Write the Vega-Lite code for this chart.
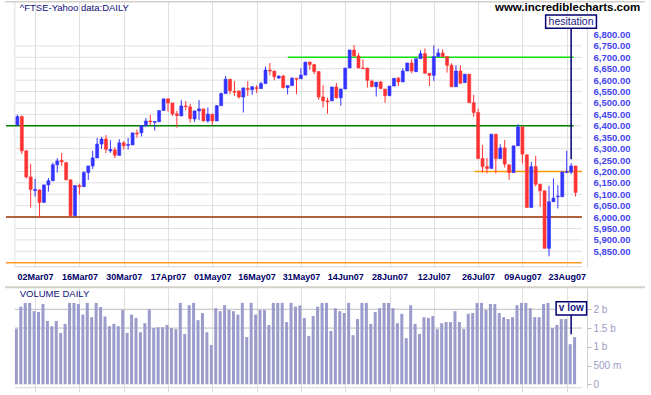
{
  "$schema": "https://vega.github.io/schema/vega-lite/v6.json",
  "padding": 0,
  "background": "white",
  "spacing": 21,
  "bounds": "flush",
  "config": {"view": {"stroke": null}, "axis": {"labelFont": "Liberation Sans", "labelOverlap": false, "labelFlush": false, "tickCount": 40}, "text": {"font": "Liberation Sans"}},
  "datasets": {
    "ftse": [
      {"i":0,"date":"26Feb07","o":6404,"h":6448,"l":6400,"c":6440,"v":1480000000},
      {"i":1,"date":"27Feb07","o":6440,"h":6446,"l":6276,"c":6290,"v":2070000000},
      {"i":2,"date":"28Feb07","o":6290,"h":6292,"l":6169,"c":6176,"v":2170000000},
      {"i":3,"date":"01Mar07","o":6176,"h":6233,"l":6041,"c":6121,"v":2170000000},
      {"i":4,"date":"02Mar07","o":6116,"h":6168,"l":6090,"c":6121,"v":1950000000},
      {"i":5,"date":"05Mar07","o":6119,"h":6121,"l":5996,"c":6064,"v":1930000000},
      {"i":6,"date":"06Mar07","o":6064,"h":6141,"l":6064,"c":6141,"v":2140000000},
      {"i":7,"date":"07Mar07","o":6141,"h":6171,"l":6112,"c":6159,"v":1690000000},
      {"i":8,"date":"08Mar07","o":6159,"h":6238,"l":6159,"c":6229,"v":1550000000},
      {"i":9,"date":"09Mar07","o":6229,"h":6258,"l":6195,"c":6246,"v":1690000000},
      {"i":10,"date":"12Mar07","o":6248,"h":6281,"l":6224,"c":6242,"v":1370000000},
      {"i":11,"date":"13Mar07","o":6238,"h":6242,"l":6163,"c":6163,"v":1610000000},
      {"i":12,"date":"14Mar07","o":6163,"h":6165,"l":6006,"c":6006,"v":2170000000},
      {"i":13,"date":"15Mar07","o":6006,"h":6140,"l":6006,"c":6138,"v":2170000000},
      {"i":14,"date":"16Mar07","o":6138,"h":6146,"l":6098,"c":6133,"v":2140000000},
      {"i":15,"date":"19Mar07","o":6133,"h":6201,"l":6133,"c":6195,"v":1860000000},
      {"i":16,"date":"20Mar07","o":6195,"h":6224,"l":6163,"c":6224,"v":2170000000},
      {"i":17,"date":"21Mar07","o":6224,"h":6290,"l":6211,"c":6259,"v":1790000000},
      {"i":18,"date":"22Mar07","o":6259,"h":6347,"l":6259,"c":6320,"v":2170000000},
      {"i":19,"date":"23Mar07","o":6320,"h":6351,"l":6299,"c":6342,"v":2060000000},
      {"i":20,"date":"26Mar07","o":6342,"h":6359,"l":6280,"c":6297,"v":1810000000},
      {"i":21,"date":"27Mar07","o":6290,"h":6337,"l":6281,"c":6296,"v":1550000000},
      {"i":22,"date":"28Mar07","o":6294,"h":6306,"l":6258,"c":6271,"v":1610000000},
      {"i":23,"date":"29Mar07","o":6270,"h":6341,"l":6270,"c":6325,"v":1550000000},
      {"i":24,"date":"30Mar07","o":6325,"h":6333,"l":6296,"c":6313,"v":1980000000},
      {"i":25,"date":"02Apr07","o":6314,"h":6347,"l":6296,"c":6318,"v":1370000000},
      {"i":26,"date":"03Apr07","o":6316,"h":6369,"l":6316,"c":6369,"v":1860000000},
      {"i":27,"date":"04Apr07","o":6368,"h":6383,"l":6348,"c":6364,"v":1770000000},
      {"i":28,"date":"05Apr07","o":6369,"h":6401,"l":6353,"c":6401,"v":1390000000},
      {"i":29,"date":"10Apr07","o":6401,"h":6434,"l":6396,"c":6421,"v":1630000000},
      {"i":30,"date":"11Apr07","o":6421,"h":6448,"l":6404,"c":6417,"v":2000000000},
      {"i":31,"date":"12Apr07","o":6415,"h":6421,"l":6379,"c":6419,"v":1500000000},
      {"i":32,"date":"13Apr07","o":6418,"h":6467,"l":6418,"c":6467,"v":1520000000},
      {"i":33,"date":"16Apr07","o":6467,"h":6518,"l":6467,"c":6518,"v":1520000000},
      {"i":34,"date":"17Apr07","o":6518,"h":6518,"l":6462,"c":6500,"v":1580000000},
      {"i":35,"date":"18Apr07","o":6500,"h":6500,"l":6443,"c":6452,"v":1500000000},
      {"i":36,"date":"19Apr07","o":6452,"h":6465,"l":6392,"c":6445,"v":1470000000},
      {"i":37,"date":"20Apr07","o":6443,"h":6513,"l":6443,"c":6487,"v":2170000000},
      {"i":38,"date":"23Apr07","o":6487,"h":6509,"l":6468,"c":6484,"v":1340000000},
      {"i":39,"date":"24Apr07","o":6483,"h":6496,"l":6414,"c":6431,"v":2110000000},
      {"i":40,"date":"25Apr07","o":6430,"h":6467,"l":6417,"c":6465,"v":2170000000},
      {"i":41,"date":"26Apr07","o":6465,"h":6513,"l":6424,"c":6474,"v":1710000000},
      {"i":42,"date":"27Apr07","o":6474,"h":6474,"l":6420,"c":6421,"v":1900000000},
      {"i":43,"date":"30Apr07","o":6421,"h":6480,"l":6414,"c":6451,"v":1390000000},
      {"i":44,"date":"01May07","o":6451,"h":6451,"l":6403,"c":6421,"v":1050000000},
      {"i":45,"date":"02May07","o":6421,"h":6491,"l":6421,"c":6488,"v":2030000000},
      {"i":46,"date":"03May07","o":6488,"h":6545,"l":6488,"c":6541,"v":1950000000},
      {"i":47,"date":"04May07","o":6541,"h":6618,"l":6541,"c":6604,"v":2110000000},
      {"i":48,"date":"08May07","o":6604,"h":6604,"l":6538,"c":6553,"v":1980000000},
      {"i":49,"date":"09May07","o":6551,"h":6596,"l":6531,"c":6547,"v":1950000000},
      {"i":50,"date":"10May07","o":6553,"h":6553,"l":6519,"c":6526,"v":1860000000},
      {"i":51,"date":"11May07","o":6526,"h":6566,"l":6458,"c":6566,"v":2170000000},
      {"i":52,"date":"14May07","o":6563,"h":6596,"l":6531,"c":6559,"v":1260000000},
      {"i":53,"date":"15May07","o":6558,"h":6573,"l":6536,"c":6571,"v":2170000000},
      {"i":54,"date":"16May07","o":6567,"h":6578,"l":6543,"c":6563,"v":1860000000},
      {"i":55,"date":"17May07","o":6563,"h":6592,"l":6563,"c":6585,"v":1980000000},
      {"i":56,"date":"18May07","o":6585,"h":6659,"l":6585,"c":6644,"v":1980000000},
      {"i":57,"date":"21May07","o":6644,"h":6675,"l":6621,"c":6640,"v":1580000000},
      {"i":58,"date":"22May07","o":6640,"h":6640,"l":6599,"c":6615,"v":2170000000},
      {"i":59,"date":"23May07","o":6609,"h":6622,"l":6606,"c":6617,"v":2170000000},
      {"i":60,"date":"24May07","o":6618,"h":6624,"l":6564,"c":6567,"v":2170000000},
      {"i":61,"date":"25May07","o":6567,"h":6576,"l":6538,"c":6576,"v":1660000000},
      {"i":62,"date":"29May07","o":6576,"h":6614,"l":6576,"c":6608,"v":2170000000},
      {"i":63,"date":"30May07","o":6608,"h":6608,"l":6538,"c":6604,"v":2070000000},
      {"i":64,"date":"31May07","o":6606,"h":6652,"l":6606,"c":6622,"v":2100000000},
      {"i":65,"date":"01Jun07","o":6622,"h":6680,"l":6622,"c":6679,"v":1770000000},
      {"i":66,"date":"04Jun07","o":6679,"h":6681,"l":6646,"c":6668,"v":1290000000},
      {"i":67,"date":"05Jun07","o":6668,"h":6672,"l":6626,"c":6637,"v":1820000000},
      {"i":68,"date":"06Jun07","o":6637,"h":6640,"l":6514,"c":6526,"v":2070000000},
      {"i":69,"date":"07Jun07","o":6526,"h":6578,"l":6480,"c":6509,"v":2170000000},
      {"i":70,"date":"08Jun07","o":6509,"h":6523,"l":6453,"c":6505,"v":2170000000},
      {"i":71,"date":"11Jun07","o":6509,"h":6570,"l":6509,"c":6570,"v":1420000000},
      {"i":72,"date":"12Jun07","o":6570,"h":6588,"l":6519,"c":6523,"v":2030000000},
      {"i":73,"date":"13Jun07","o":6523,"h":6563,"l":6488,"c":6561,"v":1950000000},
      {"i":74,"date":"14Jun07","o":6561,"h":6653,"l":6561,"c":6653,"v":1900000000},
      {"i":75,"date":"15Jun07","o":6653,"h":6733,"l":6653,"c":6732,"v":2170000000},
      {"i":76,"date":"18Jun07","o":6732,"h":6754,"l":6703,"c":6706,"v":1310000000},
      {"i":77,"date":"19Jun07","o":6706,"h":6719,"l":6653,"c":6653,"v":1740000000},
      {"i":78,"date":"20Jun07","o":6653,"h":6691,"l":6649,"c":6650,"v":2170000000},
      {"i":79,"date":"21Jun07","o":6653,"h":6653,"l":6567,"c":6599,"v":2170000000},
      {"i":80,"date":"22Jun07","o":6596,"h":6602,"l":6571,"c":6571,"v":1610000000},
      {"i":81,"date":"25Jun07","o":6571,"h":6591,"l":6528,"c":6591,"v":1930000000},
      {"i":82,"date":"26Jun07","o":6592,"h":6596,"l":6563,"c":6563,"v":2030000000},
      {"i":83,"date":"27Jun07","o":6561,"h":6561,"l":6501,"c":6532,"v":2170000000},
      {"i":84,"date":"28Jun07","o":6532,"h":6574,"l":6530,"c":6574,"v":2170000000},
      {"i":85,"date":"29Jun07","o":6574,"h":6608,"l":6574,"c":6608,"v":2030000000},
      {"i":86,"date":"02Jul07","o":6608,"h":6614,"l":6574,"c":6592,"v":1630000000},
      {"i":87,"date":"03Jul07","o":6592,"h":6652,"l":6592,"c":6640,"v":1880000000},
      {"i":88,"date":"04Jul07","o":6640,"h":6676,"l":6640,"c":6675,"v":1230000000},
      {"i":89,"date":"05Jul07","o":6675,"h":6691,"l":6630,"c":6640,"v":2110000000},
      {"i":90,"date":"06Jul07","o":6637,"h":6694,"l":6637,"c":6694,"v":1610000000},
      {"i":91,"date":"09Jul07","o":6694,"h":6731,"l":6694,"c":6716,"v":1340000000},
      {"i":92,"date":"10Jul07","o":6716,"h":6739,"l":6630,"c":6630,"v":1790000000},
      {"i":93,"date":"11Jul07","o":6630,"h":6630,"l":6574,"c":6621,"v":1770000000},
      {"i":94,"date":"12Jul07","o":6621,"h":6752,"l":6596,"c":6703,"v":1820000000},
      {"i":95,"date":"13Jul07","o":6703,"h":6738,"l":6703,"c":6719,"v":1470000000},
      {"i":96,"date":"16Jul07","o":6719,"h":6735,"l":6703,"c":6703,"v":1630000000},
      {"i":97,"date":"17Jul07","o":6703,"h":6703,"l":6633,"c":6665,"v":1660000000},
      {"i":98,"date":"18Jul07","o":6665,"h":6674,"l":6571,"c":6571,"v":1660000000},
      {"i":99,"date":"19Jul07","o":6571,"h":6665,"l":6571,"c":6640,"v":1950000000},
      {"i":100,"date":"20Jul07","o":6640,"h":6665,"l":6586,"c":6586,"v":1660000000},
      {"i":101,"date":"23Jul07","o":6589,"h":6626,"l":6589,"c":6626,"v":1470000000},
      {"i":102,"date":"24Jul07","o":6626,"h":6626,"l":6501,"c":6501,"v":1880000000},
      {"i":103,"date":"25Jul07","o":6501,"h":6535,"l":6439,"c":6458,"v":1900000000},
      {"i":104,"date":"26Jul07","o":6458,"h":6475,"l":6256,"c":6256,"v":2170000000},
      {"i":105,"date":"27Jul07","o":6256,"h":6316,"l":6195,"c":6221,"v":2170000000},
      {"i":106,"date":"30Jul07","o":6221,"h":6259,"l":6191,"c":6213,"v":1980000000},
      {"i":107,"date":"31Jul07","o":6213,"h":6363,"l":6213,"c":6363,"v":2140000000},
      {"i":108,"date":"01Aug07","o":6363,"h":6363,"l":6191,"c":6256,"v":2140000000},
      {"i":109,"date":"02Aug07","o":6256,"h":6319,"l":6256,"c":6303,"v":1900000000},
      {"i":110,"date":"03Aug07","o":6303,"h":6338,"l":6217,"c":6232,"v":1790000000},
      {"i":111,"date":"06Aug07","o":6229,"h":6229,"l":6163,"c":6195,"v":1740000000},
      {"i":112,"date":"07Aug07","o":6195,"h":6312,"l":6195,"c":6312,"v":1790000000},
      {"i":113,"date":"08Aug07","o":6312,"h":6407,"l":6312,"c":6395,"v":2110000000},
      {"i":114,"date":"09Aug07","o":6395,"h":6395,"l":6235,"c":6276,"v":2170000000},
      {"i":115,"date":"10Aug07","o":6273,"h":6273,"l":6042,"c":6042,"v":2170000000},
      {"i":116,"date":"13Aug07","o":6042,"h":6242,"l":6042,"c":6221,"v":2030000000},
      {"i":117,"date":"14Aug07","o":6221,"h":6268,"l":6134,"c":6144,"v":1790000000},
      {"i":118,"date":"15Aug07","o":6144,"h":6144,"l":6045,"c":6115,"v":1790000000},
      {"i":119,"date":"16Aug07","o":6115,"h":6115,"l":5863,"c":5863,"v":2140000000},
      {"i":120,"date":"17Aug07","o":5863,"h":6137,"l":5828,"c":6067,"v":2170000000},
      {"i":121,"date":"20Aug07","o":6067,"h":6169,"l":6067,"c":6083,"v":1500000000},
      {"i":122,"date":"21Aug07","o":6089,"h":6140,"l":6038,"c":6092,"v":1580000000},
      {"i":123,"date":"22Aug07","o":6089,"h":6198,"l":6089,"c":6198,"v":1740000000},
      {"i":124,"date":"23Aug07","o":6195,"h":6291,"l":6194,"c":6199,"v":1740000000},
      {"i":125,"date":"24Aug07","o":6197,"h":6236,"l":6188,"c":6224,"v":1070000000},
      {"i":126,"date":"28Aug07","o":6224,"h":6224,"l":6090,"c":6108,"v":1260000000}
    ],
    "levels": [
      {"level":"6700 resistance","p":6700,"from":61.04,"to":125.56},
      {"level":"6400 support","p":6400,"from":-2.57,"to":125.56},
      {"level":"6200 support","p":6200,"from":103.2,"to":127.45},
      {"level":"6000 support","p":6000,"from":-2.57,"to":127.45},
      {"level":"5800 floor","p":5800,"from":-2.57,"to":127.38}
    ],
    "pgrid": [
      {"p":5850},{"p":5900},{"p":5950},{"p":6000},{"p":6050},{"p":6100},{"p":6150},{"p":6200},{"p":6250},{"p":6300},
      {"p":6350},{"p":6400},{"p":6450},{"p":6500},{"p":6550},{"p":6600},{"p":6650},{"p":6700},{"p":6750}
    ],
    "vgrid": [{"v":1500000000},{"v":2000000000}]
  },
  "vconcat": [
    {
      "width": 587,
      "height": 266,
      "layer": [
        {
          "data": {"name": "pgrid"},
          "mark": {"type": "rule", "color": "#e0e0e0", "strokeWidth": 1},
          "encoding": {
            "y": {"field": "p", "type": "quantitative"},
            "x": {"datum": -0.577},
            "x2": {"datum": 127.45}
          }
        },
        {
          "data": {"values": [{}]},
          "mark": {"type": "rule", "color": "#e0e0e0", "strokeWidth": 1},
          "encoding": {
            "x": {"datum": -0.577},
            "y": {"datum": 5782.5},
            "y2": {"datum": 6946.7}
          }
        },
        {
          "data": {"values": [{}]},
          "mark": {"type": "rule", "color": "#d8d8d8", "strokeWidth": 1},
          "encoding": {
            "y": {"datum": 5782.5},
            "x": {"datum": -0.577},
            "x2": {"datum": 127.45}
          }
        },
        {
          "data": {"values": [{}]},
          "mark": {"type": "rule", "color": "#d4d0c8", "strokeWidth": 1.5},
          "encoding": {
            "y": {"datum": 6943.4},
            "x": {"datum": -2.796},
            "x2": {"datum": 141.65}
          }
        },
        {
          "data": {"name": "levels"},
          "mark": {"type": "rule", "strokeWidth": 1.5},
          "encoding": {
            "y": {"field": "p", "type": "quantitative"},
            "x": {"field": "from", "type": "quantitative"},
            "x2": {"field": "to"},
            "color": {
              "field": "level", "type": "nominal", "legend": null,
              "scale": {
                "domain": ["6700 resistance", "6400 support", "6200 support", "6000 support", "5800 floor"],
                "range": ["#11e011", "#008000", "#ff9900", "#993300", "#ff9a2a"]
              }
            }
          }
        },
        {
          "data": {"name": "ftse"},
          "mark": {"type": "rule", "strokeWidth": 1},
          "encoding": {
            "x": {
              "field": "i", "type": "quantitative",
              "scale": {"domain": [-2.796, 127.45], "nice": false, "zero": false},
              "axis": {
                "orient": "bottom",
                "values": [4, 14, 24, 34, 44, 54, 64, 74, 84, 94, 104, 114, 124],
                "tickCount": 40,
                "labelExpr": "['02Mar07','16Mar07','30Mar07','17Apr07','01May07','16May07','31May07','14Jun07','28Jun07','12Jul07','26Jul07','09Aug07','23Aug07'][round((datum.value-4)/10)]",
                "grid": true, "gridColor": "#e0e0e0", "gridWidth": 1,
                "domain": false, "ticks": false,
                "labelPadding": 5, "labelFontSize": 9, "labelFontWeight": "bold",
                "labelColor": "#000066", "labelFlush": false, "labelOverlap": false,
                "title": null
              }
            },
            "y": {
              "field": "l", "type": "quantitative",
              "scale": {"domain": [5781.2, 6946.7], "nice": false, "zero": false},
              "axis": {
                "orient": "right",
                "values": [5850, 5900, 5950, 6000, 6050, 6100, 6150, 6200, 6250, 6300, 6350, 6400, 6450, 6500, 6550, 6600, 6650, 6700, 6750, 6800],
                "tickCount": 40,
                "format": ",.2f",
                "grid": false, "ticks": false,
                "domain": true, "domainColor": "#d8d8d8",
                "labelPadding": 6, "labelFontSize": 9.5, "labelFontWeight": "bold",
                "labelColor": "#4444ee", "labelFlush": false, "labelOverlap": false,
                "title": null
              }
            },
            "y2": {"field": "h"},
            "color": {"condition": {"test": "datum.c >= datum.o", "value": "#3333ff"}, "value": "#ff3333"}
          }
        },
        {
          "data": {"name": "ftse"},
          "mark": {"type": "bar", "size": 3, "strokeWidth": 0.6},
          "encoding": {
            "x": {"field": "i", "type": "quantitative"},
            "y": {"field": "o", "type": "quantitative"},
            "y2": {"field": "c"},
            "color": {"condition": {"test": "datum.c >= datum.o", "value": "#3333ff"}, "value": "#ff3333"},
            "stroke": {"condition": {"test": "datum.c >= datum.o", "value": "#3333ff"}, "value": "#ff3333"}
          }
        },
        {
          "data": {"values": [{}]},
          "mark": {"type": "rule", "color": "#000070", "strokeWidth": 1.5},
          "encoding": {
            "x": {"datum": 125},
            "y": {"datum": 6827.1},
            "y2": {"datum": 6253}
          }
        },
        {
          "data": {"values": [{}]},
          "mark": {"type": "rect", "fill": "white", "stroke": "#000070", "strokeWidth": 1.5},
          "encoding": {
            "x": {"datum": 119.24},
            "x2": {"datum": 130.71},
            "y": {"datum": 6885.3},
            "y2": {"datum": 6827.1}
          }
        },
        {
          "data": {"values": [{}]},
          "mark": {"type": "text", "text": "hesitation", "align": "center", "baseline": "middle", "fontSize": 10.5, "color": "#1a1a80", "font": "Liberation Sans"},
          "encoding": {
            "x": {"datum": 124.98},
            "y": {"datum": 6856}
          }
        },
        {
          "data": {"values": [{}]},
          "mark": {"type": "text", "text": "^FTSE-Yahoo data:DAILY", "align": "left", "baseline": "middle", "fontSize": 9.5, "color": "#10107a", "font": "Liberation Sans"},
          "encoding": {
            "x": {"datum": 0.53},
            "y": {"datum": 6918.2}
          }
        },
        {
          "data": {"values": [{}]},
          "mark": {"type": "text", "text": "www.incrediblecharts.com", "align": "right", "baseline": "middle", "fontSize": 11.5, "fontWeight": "bold", "color": "#000000", "font": "Liberation Sans"},
          "encoding": {
            "x": {"datum": 140.6},
            "y": {"datum": 6914.7}
          }
        }
      ]
    },
    {
      "width": 587,
      "height": 100,
      "layer": [
        {
          "data": {"name": "vgrid"},
          "mark": {"type": "rule", "color": "#bdbdbd", "strokeWidth": 1},
          "encoding": {
            "y": {"field": "v", "type": "quantitative"},
            "x": {"datum": -0.577},
            "x2": {"datum": 127.45}
          }
        },
        {
          "data": {"name": "ftse"},
          "mark": {"type": "bar", "size": 3, "color": "#9b9bcc", "xOffset": -1},
          "encoding": {
            "x": {
              "field": "i", "type": "quantitative",
              "scale": {"domain": [-2.796, 127.45], "nice": false, "zero": false},
              "axis": {
                "orient": "bottom",
                "values": [4, 14, 24, 34, 44, 54, 64, 74, 84, 94, 104, 114, 124],
                "tickCount": 40,
                "labels": false,
                "grid": true, "gridColor": "#e0e0e0", "gridWidth": 1,
                "domain": false, "ticks": true, "tickColor": "#d8d8d8", "tickSize": 4,
                "title": null
              }
            },
            "y": {
              "field": "v", "type": "quantitative",
              "scale": {"domain": [-98700000, 2568000000], "nice": false, "zero": false},
              "axis": {
                "orient": "right",
                "values": [0, 500000000, 1000000000, 1500000000, 2000000000],
                "tickCount": 40,
                "labelExpr": "datum.value == 0 ? '0' : (datum.value < 1000000000 ? format(datum.value / 1000000, 'd') + ' m' : format(datum.value / 1000000000, '~g') + ' b')",
                "grid": false, "ticks": true, "tickColor": "#b8b8c8", "tickSize": 4,
                "domain": true, "domainColor": "#d0d0d0",
                "labelPadding": 2, "labelFontSize": 10, "labelColor": "#9c9cc4",
                "labelFlush": false, "labelOverlap": false,
                "title": null
              }
            }
          }
        },
        {
          "data": {"values": [{}]},
          "mark": {"type": "rule", "color": "#d8d8d8", "strokeWidth": 1},
          "encoding": {
            "y": {"datum": -90700000},
            "x": {"datum": -0.577},
            "x2": {"datum": 127.45}
          }
        },
        {
          "data": {"values": [{}]},
          "mark": {"type": "rule", "color": "#d4d0c8", "strokeWidth": 2},
          "encoding": {
            "y": {"datum": 2590000000},
            "x": {"datum": -2.796},
            "x2": {"datum": 141.65}
          }
        },
        {
          "data": {"values": [{}]},
          "mark": {"type": "text", "text": "VOLUME DAILY", "align": "left", "baseline": "middle", "fontSize": 9.5, "color": "#10107a", "font": "Liberation Sans"},
          "encoding": {
            "x": {"datum": 0.53},
            "y": {"datum": 2400000000}
          }
        },
        {
          "data": {"values": [{}]},
          "mark": {"type": "rule", "color": "#000070", "strokeWidth": 1.5},
          "encoding": {
            "x": {"datum": 125},
            "y": {"datum": 1848000000},
            "y2": {"datum": 1333300000}
          }
        },
        {
          "data": {"values": [{}]},
          "mark": {"type": "rect", "fill": "white", "stroke": "#000070", "strokeWidth": 1.5},
          "encoding": {
            "x": {"datum": 121.61},
            "x2": {"datum": 128.49},
            "y": {"datum": 2202700000},
            "y2": {"datum": 1848000000}
          }
        },
        {
          "data": {"values": [{}]},
          "mark": {"type": "text", "text": "v low", "align": "center", "baseline": "middle", "fontSize": 10, "fontWeight": "bold", "color": "#1a1a80", "font": "Liberation Sans"},
          "encoding": {
            "x": {"datum": 125.05},
            "y": {"datum": 2026700000}
          }
        }
      ]
    }
  ]
}
